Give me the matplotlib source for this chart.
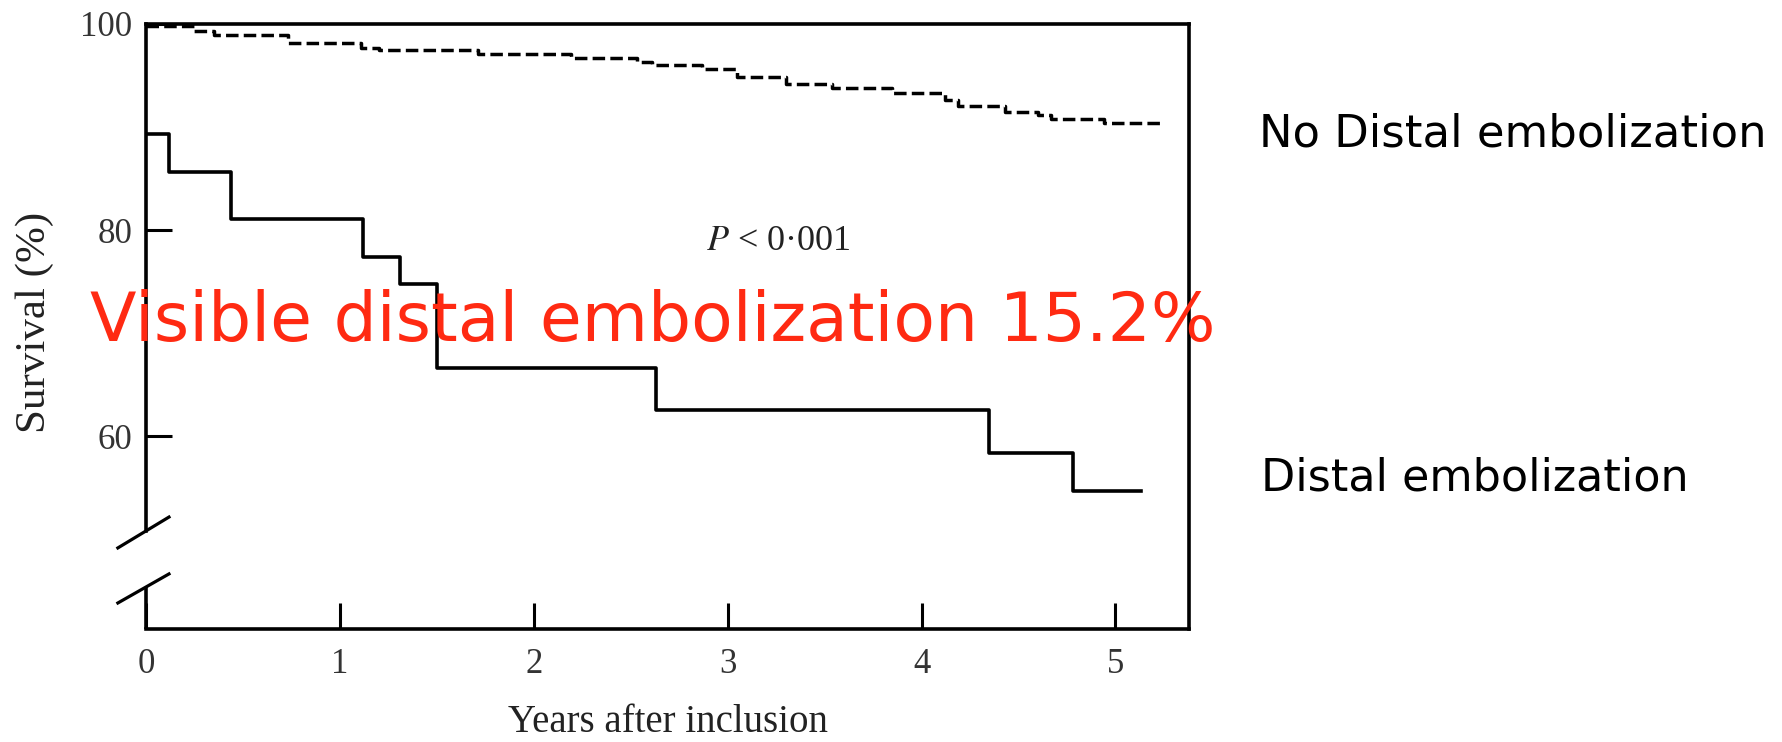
import matplotlib
matplotlib.use("Agg")
import matplotlib.pyplot as plt

# Kaplan-Meier curves (years, survival %)
no_emb_times = [0, 0.25, 0.35, 0.73, 1.11, 1.20, 1.71, 2.19, 2.53, 2.61, 2.87,
                3.05, 3.30, 3.54, 3.85, 4.12, 4.19, 4.43, 4.60, 4.67, 4.94]
no_emb_surv = [99.8, 99.35, 98.9, 98.2, 97.7, 97.5, 97.1, 96.7, 96.3, 96.0, 95.6,
               94.9, 94.2, 93.8, 93.3, 92.6, 92.0, 91.5, 91.2, 90.75, 90.4]
no_emb_end = 5.23

emb_times = [0, 0.12, 0.44, 1.12, 1.31, 1.50, 2.63, 4.35, 4.78]
emb_surv = [89.3, 85.6, 81.1, 77.4, 74.8, 66.6, 62.5, 58.4, 54.7]
emb_end = 5.13

x_ticks = [0, 1, 2, 3, 4, 5]
y_ticks = [60, 80, 100]

plt.rcParams["mathtext.fontset"] = "stix"
serif = "Liberation Serif"

fig = plt.figure(figsize=(17.83, 7.42), dpi=100)
ax = fig.add_axes([0.0819, 0.1523, 0.585, 0.8154])

ax.step(no_emb_times + [no_emb_end], no_emb_surv + [no_emb_surv[-1]], where="post",
        color="black", lw=2.5, dashes=(3.6, 1.5))
ax.step(emb_times + [emb_end], emb_surv + [emb_surv[-1]], where="post",
        color="black", lw=2.6)

ax.set_xlim(0, 5.38)
ax.set_ylim(41.3, 100)
ax.set_xticks(x_ticks)
ax.set_yticks(y_ticks)
ax.tick_params(direction="in", length=19, width=2.2, colors="black",
               labelsize=25, labelcolor="#333333")
ax.tick_params(axis="x", pad=14)
ax.tick_params(axis="y", pad=10)
for lab in ax.get_xticklabels() + ax.get_yticklabels():
    lab.set_family(serif)

for s in ax.spines.values():
    s.set_linewidth(2.6)

# broken y axis
ax.spines["left"].set_bounds(50.8, 100)
ax.plot([0, 0], [0, 0.069], transform=ax.transAxes, clip_on=False,
        color="black", lw=2.6, solid_capstyle="butt")
ax.plot([-0.027, 0.022], [0.134, 0.185], transform=ax.transAxes, clip_on=False,
        color="black", lw=2.3)
ax.plot([-0.027, 0.022], [0.043, 0.091], transform=ax.transAxes, clip_on=False,
        color="black", lw=2.3)

ax.set_xlabel("Years after inclusion", family=serif, fontsize=28, color="#222222", va="center")
ax.xaxis.set_label_coords(0.5, -0.154)
ax.set_ylabel("Survival (%)", family=serif, fontsize=31, color="#222222", va="center")
ax.yaxis.set_label_coords(-0.107, 0.506)

ax.text(0.606, 0.64, "$P$ < 0\u00b7001", transform=ax.transAxes, family=serif,
        fontsize=26, color="#222222", ha="center", va="center")

fig.text(0.366, 0.566, "Visible distal embolization 15.2%", color="#ff2a12",
         fontsize=49, family="DejaVu Sans", ha="center", va="center")

fig.text(0.706, 0.82, "No Distal embolization", color="black", fontsize=32.3,
         family="DejaVu Sans", ha="left", va="center")
fig.text(0.707, 0.356, "Distal embolization", color="black", fontsize=32,
         family="DejaVu Sans", ha="left", va="center")

fig.savefig("out.png", dpi=100)
